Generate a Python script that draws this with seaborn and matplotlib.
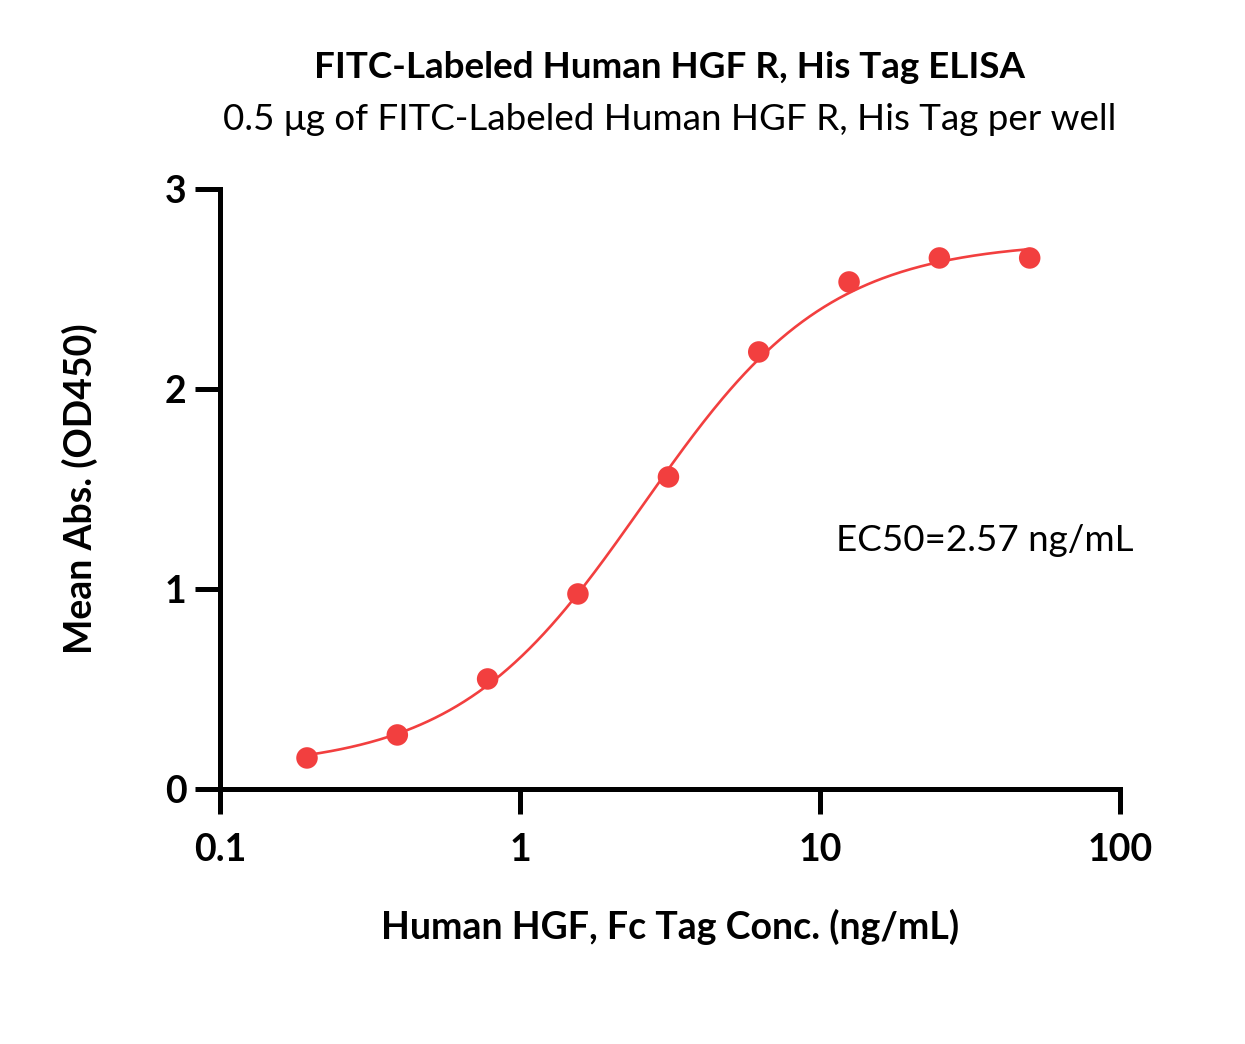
import numpy as np
import pandas as pd
import matplotlib
matplotlib.use("Agg")
import matplotlib.pyplot as plt
import seaborn as sns

# Data
conc = [0.195, 0.39, 0.78, 1.56, 3.125, 6.25, 12.5, 25, 50]
od450 = [0.155, 0.27, 0.55, 0.975, 1.56, 2.185, 2.535, 2.655, 2.655]

# 4PL fit parameters
fit_bottom = 0.10
fit_top = 2.74
fit_ec50 = 2.57
fit_hill = 1.40

title = "FITC-Labeled Human HGF R, His Tag ELISA"
subtitle = "0.5 \u03bcg of FITC-Labeled Human HGF R, His Tag per well"
xlabel = "Human HGF, Fc Tag Conc. (ng/mL)"
ylabel = "Mean Abs. (OD450)"
ec50_label = "EC50=2.57 ng/mL"
xticks = [0.1, 1, 10, 100]
xticklabels = ["0.1", "1", "10", "100"]
yticks = [0, 1, 2, 3]

sns.set_theme(style="white")
plt.rcParams['font.family'] = ['Lato', 'DejaVu Sans']
plt.rcParams['text.color'] = 'black'
plt.rcParams['axes.labelcolor'] = 'black'
plt.rcParams['xtick.color'] = 'black'
plt.rcParams['ytick.color'] = 'black'

color = "#F23F3F"

fig = plt.figure(figsize=(12.45, 10.44), dpi=100)
ax = fig.add_axes([0.1767, 0.2443, 0.7229, 0.5747])

xs = np.logspace(np.log10(conc[0]), np.log10(conc[-1]), 300)
ys = fit_bottom + (fit_top - fit_bottom) / (1 + (fit_ec50 / xs) ** fit_hill)
curve = pd.DataFrame({"x": xs, "y": ys})
pts = pd.DataFrame({"x": conc, "y": od450})

sns.lineplot(data=curve, x="x", y="y", ax=ax, color=color, linewidth=1.9)
sns.scatterplot(data=pts, x="x", y="y", ax=ax, color=color, s=240, edgecolor="none", zorder=3)

ax.set_xscale("log")
ax.set_xlim(0.1, 100)
ax.set_ylim(0, 3)
ax.set_xticks(xticks)
ax.set_xticklabels(xticklabels)
ax.minorticks_off()
ax.set_yticks(yticks)
ax.set_yticklabels([str(t) for t in yticks])

for s in ["top", "right"]:
    ax.spines[s].set_visible(False)
for s in ["left", "bottom"]:
    ax.spines[s].set_linewidth(3.6)
    ax.spines[s].set_color("black")
ax.tick_params(axis="both", which="major", length=18, width=3.6, color="black",
               direction="out", labelsize=27, bottom=True, left=True)
ax.tick_params(axis="x", pad=14)
ax.tick_params(axis="y", pad=6)
for lab in ax.get_xticklabels() + ax.get_yticklabels():
    lab.set_fontweight("bold")

ax.set_xlabel(xlabel, fontsize=27, fontweight="bold", labelpad=30)
ax.set_ylabel(ylabel, fontsize=27, fontweight="bold", labelpad=48)

fig.text(0.538, 0.935, title, ha="center", va="center", fontsize=26.5, fontweight="bold")
fig.text(0.538, 0.886, subtitle, ha="center", va="center", fontsize=26.5)

ax.text(11.3, 1.24, ec50_label, ha="left", va="center", fontsize=26.5)

fig.savefig("out.png", dpi=100, facecolor="white")
